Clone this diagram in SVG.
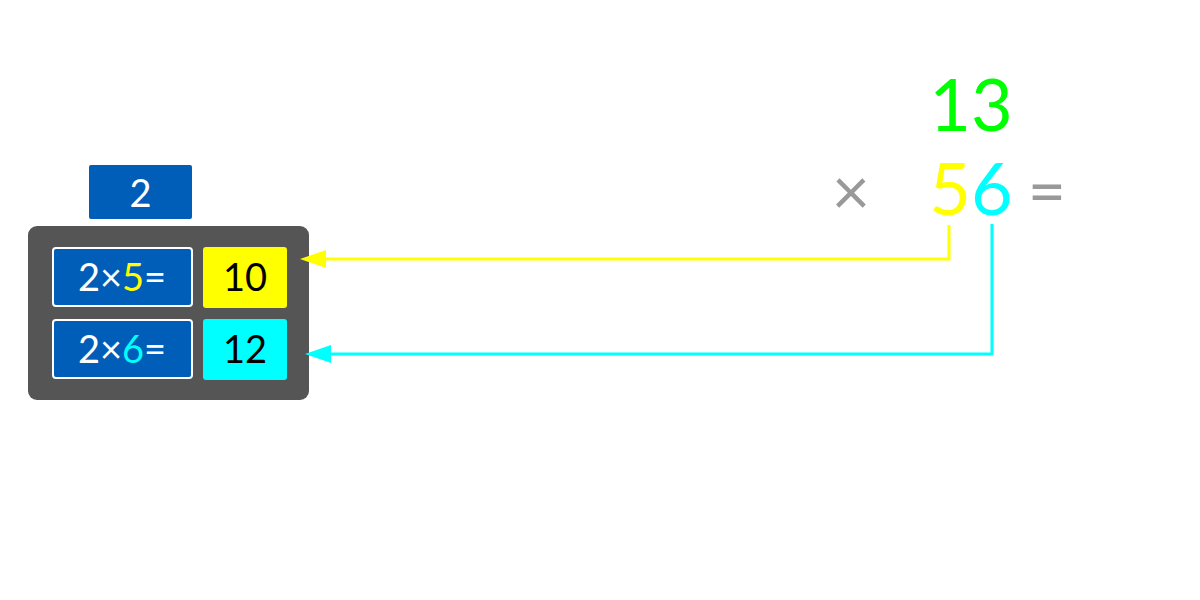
<svg xmlns="http://www.w3.org/2000/svg" width="1200" height="600" viewBox="0 0 1200 600">
<style>
text{font-family:Lato,"Open Sans","Liberation Sans",sans-serif;text-anchor:middle}
.cell{font-size:38px;fill:#fff}
.res{font-size:38px;fill:#000}
.big{font-size:72px}
.op{font-size:66px;fill:#999}
.conn{fill:none;stroke-width:3}
</style>
<defs>
<marker id="ay" markerWidth="26" markerHeight="18" refX="0" refY="9" orient="auto" markerUnits="userSpaceOnUse"><path d="M0,0 L26,9 L0,18 Z" fill="#ffff00"/></marker>
<marker id="ac" markerWidth="26" markerHeight="18" refX="0" refY="9" orient="auto" markerUnits="userSpaceOnUse"><path d="M0,0 L26,9 L0,18 Z" fill="#00ffff"/></marker>
</defs>
<rect width="1200" height="600" fill="#fff"/>
<g id="multiplier"><rect x="89" y="165" width="103" height="54" rx="2" fill="#005eb8"/><text class="cell" x="140.5" y="207">2</text></g>
<g id="panel"><rect x="28" y="226" width="281" height="174" rx="9" fill="#555"/></g>
<g id="expr1"><rect x="53" y="248" width="139" height="58" rx="3" fill="#005eb8" stroke="#fff" stroke-width="2"/><text class="cell" x="122" y="291">2×<tspan fill="#ffff00">5</tspan>=</text></g>
<g id="res1"><rect x="203" y="247" width="84" height="61" rx="3" fill="#ffff00"/><text class="res" x="245" y="291">10</text></g>
<g id="expr2"><rect x="53" y="320" width="139" height="58" rx="3" fill="#005eb8" stroke="#fff" stroke-width="2"/><text class="cell" x="122" y="363">2×<tspan fill="#00ffff">6</tspan>=</text></g>
<g id="res2"><rect x="203" y="319" width="84" height="61" rx="3" fill="#00ffff"/><text class="res" x="245" y="363">12</text></g>
<g id="top"><text class="big" x="971" y="131" fill="#00ff00">13</text></g>
<g id="bottom"><text class="big" x="971" y="215"><tspan fill="#ffff00">5</tspan><tspan fill="#00ffff">6</tspan></text></g>
<g id="times"><text class="op" x="851" y="215">×</text></g>
<g id="equals"><text class="op" x="1047" y="215">=</text></g>
<g id="connectors">
<path class="conn" stroke="#ffff00" d="M949,225 V259 H326" marker-end="url(#ay)"/>
<path class="conn" stroke="#00ffff" d="M992,224 V354 H331" marker-end="url(#ac)"/>
</g>
</svg>
